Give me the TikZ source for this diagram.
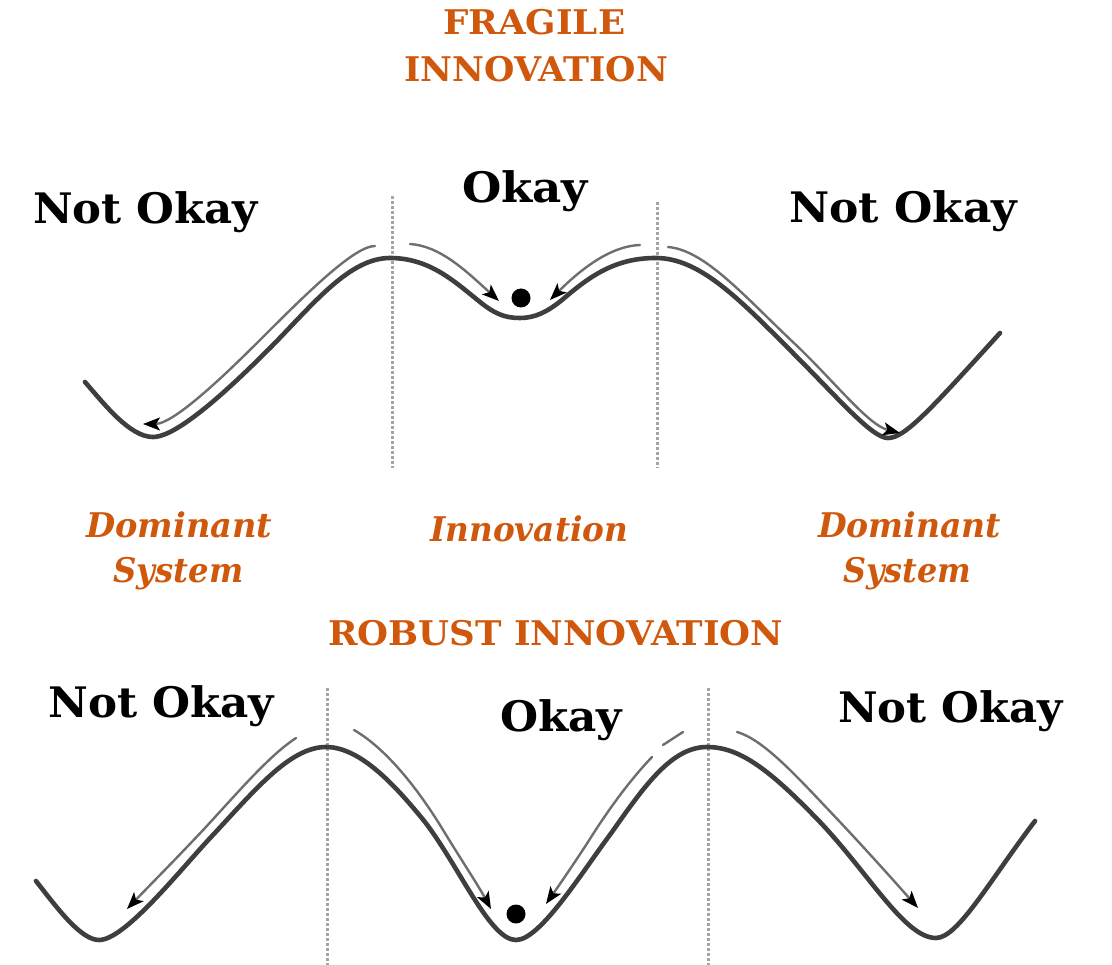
\documentclass[tikz,border=0pt]{standalone}
\usepackage{fontspec}
\usepackage{graphicx}
\setmainfont{DejaVu Serif}
\usetikzlibrary{arrows.meta}
\definecolor{orng}{RGB}{208,88,12}
\definecolor{curvegray}{RGB}{62,62,62}
\definecolor{arrgray}{RGB}{110,110,110}
\definecolor{divgray}{RGB}{165,165,165}
\newcommand\fitw[2]{\resizebox{#1}{\height}{#2}}
\tikzset{
  valley/.style={line width=4.6pt, color=curvegray, line cap=round, line join=round},
  flow/.style={line width=2.4pt, color=arrgray, line cap=round,
    -{Stealth[length=17pt,width=13pt,inset=4pt,color=black]}},
  flowplain/.style={line width=2.4pt, color=arrgray, line cap=round},
  divider/.style={line width=3pt, color=divgray, dash pattern=on 3pt off 2pt},
  ball/.style={fill=black},
  lab/.style={inner sep=0pt, anchor=base west, font=\bfseries\fontsize{42}{46}\selectfont, text=black},
  otitle/.style={inner sep=0pt, anchor=base west, font=\bfseries\fontsize{34}{38}\selectfont, text=orng},
  oital/.style={inner sep=0pt, anchor=base west, font=\bfseries\itshape\fontsize{34}{38}\selectfont, text=orng}
}
\begin{document}
\begin{tikzpicture}[x=1pt,y=-1pt]
\useasboundingbox[fill=white] (0,0) rectangle (1112,965);

% ---------- titles ----------
\node[otitle] (fragile) at (443,35) {\fitw{182pt}{FRAGILE}};
\node[otitle] (innovtitle) at (404,82) {\fitw{264pt}{INNOVATION}};
\node[otitle] (robust) at (328,645) {\fitw{455pt}{ROBUST INNOVATION}};

% ---------- top diagram ----------
\draw[divider] (392,196) -- (392,468);
\draw[divider] (657,202) -- (657,468);

\draw[valley] (85,382) .. controls (105,405) and (130,437) .. (153,437)
  .. controls (180,437) and (240,378) .. (272,346)
  .. controls (315,302) and (350,258) .. (390,258)
  .. controls (430,258) and (455,282) .. (480,302)
  .. controls (495,314) and (505,318) .. (520,318)
  .. controls (535,318) and (547,312) .. (562,300)
  .. controls (590,276) and (615,258) .. (656,258)
  .. controls (700,258) and (740,300) .. (790,350)
  .. controls (840,400) and (872,438) .. (888,438)
  .. controls (905,438) and (930,410) .. (1000,333);

\draw[flow] (375,246) .. controls (355,246) and (310,290) .. (263,337)
  .. controls (231,369) and (175,424) .. (143,424);
\draw[flow] (410,244) .. controls (440,246) and (465,270) .. (499,301);
\draw[flow] (640,245) .. controls (610,246) and (580,270) .. (550,300);
\draw[flow] (668,247) .. controls (705,250) and (745,297) .. (795,344)
  .. controls (835,382) and (868,425) .. (900,433);

\fill[ball] (521,298) circle (9.5);

\node[lab] (nokTL) at (33,224) {\fitw{225pt}{Not Okay}};
\node[lab] (okT) at (462,203) {\fitw{126pt}{Okay}};
\node[lab] (nokTR) at (789,223) {\fitw{228pt}{Not Okay}};

% ---------- middle labels ----------
\node[oital] (domL) at (86,537) {\fitw{186pt}{Dominant}};
\node[oital] (sysL) at (113,583) {\fitw{130pt}{System}};
\node[oital] (innovL) at (430,542) {\fitw{198pt}{Innovation}};
\node[oital] (domR) at (818,537) {\fitw{183pt}{Dominant}};
\node[oital] (sysR) at (843,583) {\fitw{128pt}{System}};

% ---------- bottom diagram ----------
\draw[divider] (327,688) -- (327,965);
\draw[divider] (708,688) -- (708,965);

\draw[valley] (36,881) .. controls (55,905) and (80,940) .. (99,940)
  .. controls (125,940) and (180,870) .. (212,836)
  .. controls (255,790) and (290,747) .. (326,747)
  .. controls (360,747) and (395,785) .. (425,822)
  .. controls (460,868) and (490,940) .. (516,940)
  .. controls (540,940) and (580,875) .. (612,832)
  .. controls (645,785) and (672,747) .. (707,747)
  .. controls (740,747) and (770,770) .. (820,822)
  .. controls (870,875) and (905,938) .. (936,938)
  .. controls (958,938) and (990,880) .. (1035,821);

\draw[flow] (296,738) .. controls (270,755) and (240,790) .. (205,828)
  .. controls (175,860) and (150,885) .. (127,909);
\draw[flow] (354,730) .. controls (385,748) and (415,785) .. (440,825)
  .. controls (460,858) and (478,885) .. (491,909);
\draw[flowplain] (663,745) -- (683,732);
\draw[flow] (652,757) .. controls (630,780) and (608,810) .. (588,842)
  .. controls (575,862) and (560,884) .. (546,904);
\draw[flow] (737,732) .. controls (765,740) and (800,780) .. (840,822)
  .. controls (870,854) and (895,882) .. (918,908);

\fill[ball] (516,914) circle (9.5);

\node[lab] (nokBL) at (48,717) {\fitw{226pt}{Not Okay}};
\node[lab] (okB) at (500,731) {\fitw{122pt}{Okay}};
\node[lab] (nokBR) at (838,722) {\fitw{225pt}{Not Okay}};
\end{tikzpicture}
\end{document}
